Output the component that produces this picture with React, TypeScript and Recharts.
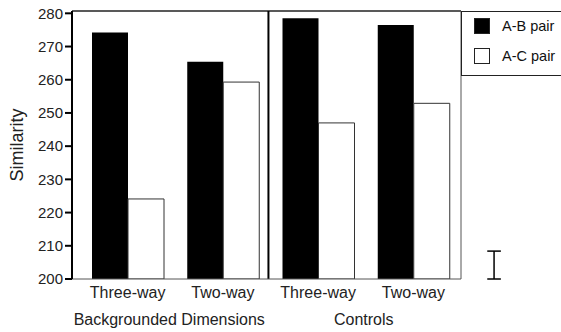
import {
  BarChart,
  Bar,
  XAxis,
  YAxis,
  ReferenceLine,
  Label,
} from 'recharts'

const CATEGORIES = ['Three-way', 'Two-way', 'Three-way', 'Two-way']
const GROUPS = ['Backgrounded Dimensions', 'Controls']
const AB_PAIR = [274.2, 265.4, 278.5, 276.5]
const AC_PAIR = [224.1, 259.3, 247.0, 252.9]
const Y_TICKS = [200, 210, 220, 230, 240, 250, 260, 270, 280]
const ERROR_SIZE = 8.4

const FONT = '"Liberation Sans", Arial, sans-serif'

const data = CATEGORIES.map((label, i) => ({
  label,
  pos: i + 0.5,
  ab: AB_PAIR[i],
  ac: AC_PAIR[i],
}))

const LEGEND_ITEMS = [
  { name: 'A-B pair', fill: '#000' },
  { name: 'A-C pair', fill: '#fff' },
]

function LegendBox() {
  return (
    <div
      style={{
        position: 'absolute',
        left: 461,
        top: 11,
        width: 100,
        height: 65,
        borderTop: '1px solid #222',
        borderLeft: '1px solid #222',
        borderBottom: '1px solid #222',
        boxSizing: 'border-box',
        fontFamily: FONT,
        fontSize: 14.5,
        color: '#111',
      }}
    >
      {LEGEND_ITEMS.map((it, i) => (
        <div
          key={it.name}
          style={{ display: 'flex', alignItems: 'center', position: 'absolute', left: 12, top: 6 + i * 30, lineHeight: '16px' }}
        >
          <div
            style={{
              width: 14,
              height: 14,
              background: it.fill,
              border: '1px solid #222',
              marginRight: 12,
            }}
          />
          <span>{it.name}</span>
        </div>
      ))}
    </div>
  )
}

export default function App() {
  return (
    <div style={{ position: 'absolute', left: 0, top: 0, width: 561, height: 332, background: '#fff' }}>
      <BarChart
        width={561}
        height={332}
        data={data}
        margin={{ top: 11, right: 100, bottom: 0, left: 0 }}
        barGap={0}
        barSize={36}
      >
        <XAxis
          dataKey="label"
          xAxisId="cat"
          height={27}
          padding={{ left: 8, right: 0 }}
          axisLine={{ stroke: '#555', strokeWidth: 1 }}
          tickLine={false}
          tick={{ fontSize: 16, fill: '#222', fontFamily: FONT }}
          interval={0}
        />
        <XAxis
          xAxisId="num"
          dataKey="pos"
          type="number"
          domain={[0, 4]}
          ticks={[1, 3]}
          tickFormatter={(v: number) => GROUPS[(v - 1) / 2]}
          height={26}
          axisLine={false}
          tickLine={false}
          tick={{ fontSize: 16, fill: '#222', fontFamily: FONT }}
          allowDataOverflow
        />
        <YAxis
          width={72}
          domain={[200, 280.7]}
          ticks={Y_TICKS}
          allowDataOverflow
          axisLine={{ stroke: '#000', strokeWidth: 2 }}
          tickLine={{ stroke: '#000', strokeWidth: 2 }}
          tickSize={7}
          tick={{ fontSize: 15, fill: '#222', fontFamily: FONT }}
        >
          <Label
            value="Similarity"
            angle={-90}
            position="insideLeft"
            offset={17}
            style={{ fontSize: 18, fill: '#222', fontFamily: FONT, textAnchor: 'middle' }}
          />
        </YAxis>
        <Bar dataKey="ab" xAxisId="cat" name="A-B pair" fill="#000" isAnimationActive={false} />
        <Bar
          dataKey="ac"
          xAxisId="cat"
          name="A-C pair"
          fill="#fff"
          stroke="#333"
          strokeWidth={1}
          isAnimationActive={false}
        />
        {/* frame: top, right and the panel separator */}
        <ReferenceLine xAxisId="num" y={280.7} stroke="#222" strokeWidth={1.5} ifOverflow="visible" />
        <ReferenceLine xAxisId="num" x={4} stroke="#555" strokeWidth={1} ifOverflow="visible" />
        <ReferenceLine xAxisId="num" x={2.02} stroke="#000" strokeWidth={2} />
        {/* error bar outside the plot */}
        <ReferenceLine
          xAxisId="num"
          segment={[{ x: 4.34, y: 200 }, { x: 4.34, y: 200 + ERROR_SIZE }]}
          stroke="#000"
          strokeWidth={1.5}
          ifOverflow="visible"
        />
        <ReferenceLine
          xAxisId="num"
          segment={[{ x: 4.27, y: 200 }, { x: 4.41, y: 200 }]}
          stroke="#000"
          strokeWidth={1.5}
          ifOverflow="visible"
        />
        <ReferenceLine
          xAxisId="num"
          segment={[{ x: 4.27, y: 200 + ERROR_SIZE }, { x: 4.41, y: 200 + ERROR_SIZE }]}
          stroke="#000"
          strokeWidth={1.5}
          ifOverflow="visible"
        />
      </BarChart>
      <LegendBox />
    </div>
  )
}
